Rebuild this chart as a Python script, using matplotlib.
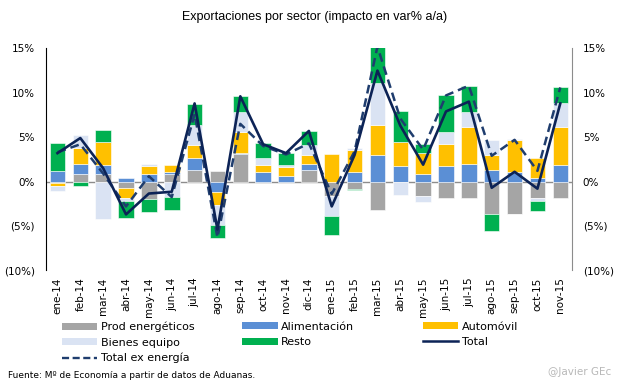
import numpy as np
import matplotlib
matplotlib.use("Agg")
import matplotlib.pyplot as plt
from matplotlib.patches import Patch
from matplotlib.lines import Line2D
from matplotlib.ticker import FuncFormatter

meses = ["ene-14", "feb-14", "mar-14", "abr-14", "may-14", "jun-14", "jul-14", "ago-14",
         "sep-14", "oct-14", "nov-14", "dic-14", "ene-15", "feb-15", "mar-15", "abr-15",
         "may-15", "jun-15", "jul-15", "ago-15", "sep-15", "oct-15", "nov-15"]

energia = [-0.2, 0.8, 0.8, -0.7, -1.95, 0.8, 1.3, 1.15, 3.1, -0.15, 0.0, 1.3,
           -1.65, -0.8, -3.2, 0.0, -1.6, -1.85, -1.85, -3.7, -3.6, -1.9, -1.9]
alimentacion = [1.15, 1.2, 1.1, 0.4, 0.8, 0.25, 1.3, -1.2, 0.1, 1.05, 0.6, 0.7,
                0.0, 1.05, 3.0, 1.7, 0.85, 1.75, 1.95, 1.35, 1.1, 0.4, 1.85]
automovil = [-0.25, 1.8, 2.6, -1.1, 0.9, 0.85, 1.5, -1.4, 2.4, 0.85, 1.05, 1.0,
             3.1, 2.55, 3.4, 2.8, 2.35, 2.5, 4.15, 1.6, 3.55, 2.2, 4.25]
bienes_equipo = [-0.65, 1.5, -4.2, -0.4, 0.3, -1.75, 2.25, -2.25, 2.2, 0.7, 0.2, 1.1,
                 -2.25, 0.2, 4.7, -1.5, -0.7, 1.3, 1.75, 1.7, 0.1, -0.3, 2.7]
resto = [3.15, -0.45, 1.3, -1.9, -1.45, -1.45, 2.35, -1.55, 1.8, 1.7, 1.35, 1.6,
         -2.15, -0.2, 4.1, 3.5, 1.05, 4.25, 2.9, -1.9, -0.1, -1.15, 1.9]

total = [3.2, 4.9, 1.5, -3.7, -1.35, -1.15, 8.8, -5.4, 9.6, 4.2, 3.2, 5.7,
         -2.8, 3.0, 12.5, 6.3, 1.9, 7.9, 9.0, -0.7, 1.1, -0.8, 8.8]
total_ex = [3.3, 4.2, 0.9, -2.8, 0.6, -1.75, 7.6, -6.3, 6.5, 4.0, 3.05, 4.3,
            -1.4, 3.4, 15.2, 7.1, 3.6, 9.7, 10.8, 2.9, 4.7, 1.2, 10.6]

series = [("Prod energéticos", energia, "#a5a5a5"),
          ("Alimentación", alimentacion, "#5b8fd5"),
          ("Automóvil", automovil, "#ffc000"),
          ("Bienes equipo", bienes_equipo, "#dae3f3"),
          ("Resto", resto, "#00b050")]
navy = "#0c2356"
navy2 = "#1f3d6e"

fig = plt.figure(figsize=(6.17, 3.84), dpi=100)
ax = fig.add_axes([0.0746, 0.296, 0.852, 0.578])

x = np.arange(len(meses))
pos_base = np.zeros(len(meses))
neg_base = np.zeros(len(meses))
for name, vals, col in series:
    v = np.array(vals)
    base = np.where(v >= 0, pos_base, neg_base)
    ax.bar(x, v, 0.68, bottom=base, color=col, edgecolor="white", linewidth=0.4, zorder=2)
    pos_base += np.clip(v, 0, None)
    neg_base += np.clip(v, None, 0)

ax.axhline(0, color="#8c8c8c", lw=1, zorder=1)
ax.plot(x, total_ex, color=navy2, lw=1.8, ls=(0, (3.5, 2)), zorder=3)
ax.plot(x, total, color=navy, lw=1.9, zorder=4)

ax.set_xlim(-0.5, len(meses) - 0.5)
ax.set_ylim(-10, 15)
ax.set_yticks([-10, -5, 0, 5, 10, 15])
fmt = FuncFormatter(lambda v, p: "(%d%%)" % abs(v) if v < 0 else "%d%%" % v)
ax.yaxis.set_major_formatter(fmt)
ax.tick_params(axis="y", length=0, labelsize=7.5, pad=8, labelright=True, right=False)
ax.set_xticks(x)
ax.set_xticklabels(meses, rotation=90, fontsize=7.5)
ax.tick_params(axis="x", length=0, pad=5)
for s in ["top", "bottom"]:
    ax.spines[s].set_visible(False)
ax.spines["left"].set_color("black")
ax.spines["right"].set_color("#8c8c8c")

fig.text(0.51, 0.955, "Exportaciones por sector (impacto en var% a/a)",
         ha="center", va="center", fontsize=9, family="Liberation Sans")

def patch(i):
    return Patch(facecolor=series[i][2], label=series[i][0])

col1 = [patch(0), patch(3), Line2D([], [], color=navy2, lw=1.7, ls=(0, (3, 1.5)), label="Total ex energía")]
col2 = [patch(1), patch(4)]
col3 = [patch(2), Line2D([], [], color=navy, lw=1.8, label="Total")]
kw = dict(loc="upper left", frameon=False, fontsize=8, handlelength=3.2, handleheight=0.6,
          handletextpad=0.3, labelspacing=0.48, borderaxespad=0, borderpad=0)
for handles, xpos in [(col1, 0.1), (col2, 0.393), (col3, 0.685)]:
    fig.legend(handles=handles, bbox_to_anchor=(xpos, 0.162), **kw)

fig.text(0.013, 0.023, "Fuente: Mº de Economía a partir de datos de Aduanas.",
         fontsize=6.5, family="Liberation Sans Narrow", va="center")
fig.text(0.99, 0.03, "@Javier GEc", fontsize=7.5, color="#b8b8b8", ha="right", va="center")

fig.savefig("out.png", dpi=100)
